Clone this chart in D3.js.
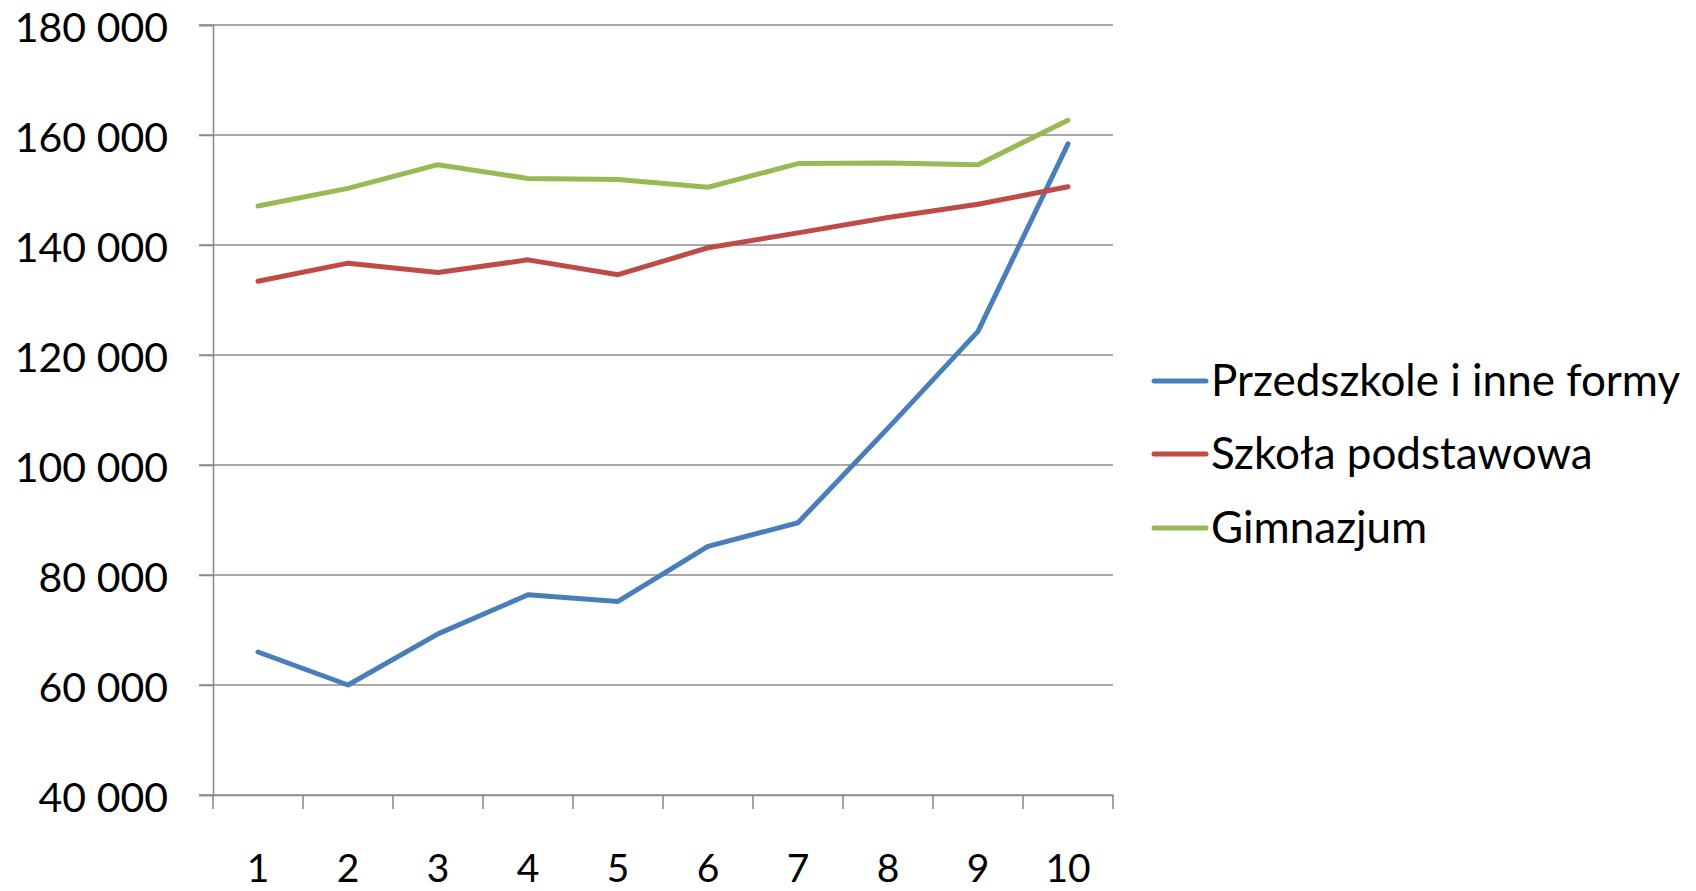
<!DOCTYPE html>
<html>
<head>
<meta charset="utf-8">
<script src="https://cdn.jsdelivr.net/npm/d3@7"></script>
<style>
html,body{margin:0;padding:0;background:#fff;}
svg{display:block;font-family:Lato, "Open Sans", sans-serif;}
</style>
</head>
<body>
<svg id="chart" width="1696" height="891"></svg>
<script>
const categories = ["1","2","3","4","5","6","7","8","9","10"];
const seriesNames = ["Przedszkole i inne formy","Szkoła podstawowa","Gimnazjum"];
const przedszkole = [66000, 60000, 69300, 76400, 75200, 85200, 89500, 106700, 124300, 158400];
const szkola = [133400, 136700, 135000, 137300, 134600, 139500, 142200, 145000, 147400, 150600];
const gimnazjum = [147100, 150300, 154600, 152100, 151900, 150500, 154800, 154900, 154600, 162700];
const colors = ["#4A7EBB","#BE4B48","#98B954"];
const yTicks = [40000,60000,80000,100000,120000,140000,160000,180000];

(function(){
const series = [przedszkole, szkola, gimnazjum];
const svg = d3.select("#chart");
const mLeft = 213, mRight = 1113, mTop = 25, mBottom = 795;

const x = d3.scaleBand().domain(categories).range([mLeft, mRight]).padding(0);
const y = d3.scaleLinear().domain([40000,180000]).range([mBottom, mTop]);
const fmt = v => d3.format(",")(v).replace(/,/g, " ");

// gridlines
svg.append("g").selectAll("line").data(yTicks).join("line")
  .attr("x1", mLeft - 14).attr("x2", mRight)
  .attr("y1", d => y(d)).attr("y2", d => y(d))
  .attr("stroke", "#8c8c8c").attr("stroke-width", 1.6);

// y axis
const yAxis = svg.append("g").attr("transform", `translate(${mLeft},0)`)
  .call(d3.axisLeft(y).tickValues(yTicks).tickFormat(fmt).tickSize(14).tickPadding(31));
yAxis.select(".domain").attr("stroke", "#8c8c8c").attr("stroke-width", 1.6);
yAxis.selectAll(".tick line").attr("stroke", "#8c8c8c").attr("stroke-width", 1.6);
yAxis.selectAll("text").attr("font-family", "Lato, sans-serif").attr("font-size", 41)
  .attr("dy", "0.4em").attr("fill", "#000");

// x axis
const xAxis = svg.append("g").attr("transform", `translate(0,${mBottom})`)
  .call(d3.axisBottom(x).tickSize(0).tickPadding(59));
xAxis.select(".domain").attr("stroke", "#8c8c8c").attr("stroke-width", 1.6);
xAxis.selectAll("text").attr("font-family", "Lato, sans-serif").attr("font-size", 39).attr("fill", "#000");
// boundary ticks
const bounds = categories.map(c => x(c)).concat([x(categories[categories.length-1]) + x.bandwidth()]);
svg.append("g").selectAll("line").data(bounds).join("line")
  .attr("x1", d => d).attr("x2", d => d)
  .attr("y1", mBottom).attr("y2", mBottom + 14)
  .attr("stroke", "#8c8c8c").attr("stroke-width", 1.6);

// lines
const line = d3.line().x((d,i) => x(categories[i]) + x.bandwidth()/2).y(d => y(d));
svg.append("g").selectAll("path").data(series).join("path")
  .attr("d", d => line(d))
  .attr("fill", "none")
  .attr("stroke", (d,i) => colors[i])
  .attr("stroke-width", 5)
  .attr("stroke-linecap", "round")
  .attr("stroke-linejoin", "round");

// legend
const legendY = [381, 454, 528];
const lg = svg.append("g").selectAll("g").data(seriesNames).join("g")
  .attr("transform", (d,i) => `translate(0,${legendY[i]})`);
lg.append("line").attr("x1", 1154).attr("x2", 1206).attr("y1", 0).attr("y2", 0)
  .attr("stroke", (d,i) => colors[i]).attr("stroke-width", 5).attr("stroke-linecap", "round");
lg.append("text").attr("x", 1211).attr("y", 0).attr("dy", "0.35em")
  .attr("font-family", "Lato, sans-serif").attr("font-size", 44).attr("fill", "#000")
  .text(d => d);
})();
</script>
</body>
</html>
